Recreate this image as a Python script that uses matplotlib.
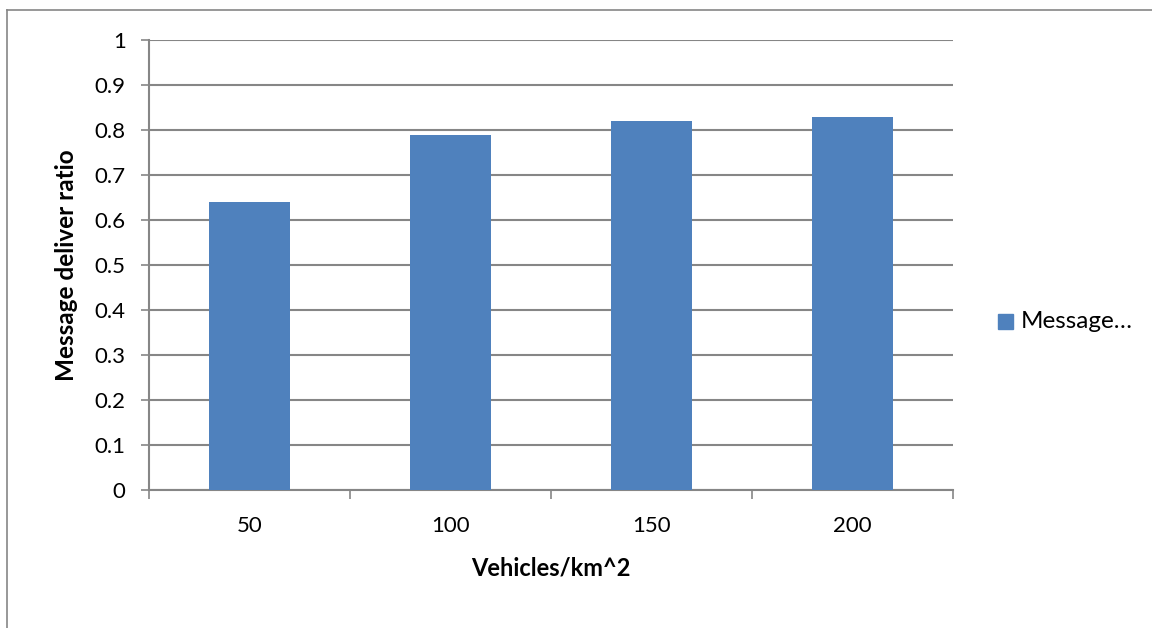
import matplotlib.pyplot as plt
from matplotlib.patches import Rectangle
from matplotlib.lines import Line2D

categories = ['50', '100', '150', '200']
ratio = [0.64, 0.79, 0.82, 0.83]
series_name = 'Message…'

bar_color = '#4f81bd'
grid_color = '#868686'

plt.rcParams['font.family'] = ['Lato', 'DejaVu Sans']

W, H = 1152, 628
fig = plt.figure(figsize=(W / 100, H / 100), dpi=100)
ax = fig.add_axes([149 / W, 1 - 490 / H, (953 - 149) / W, (490 - 40) / H])

x = range(len(categories))
ax.bar(x, ratio, width=0.4, color=bar_color, zorder=3)

ax.set_xlim(-0.5, len(categories) - 0.5)
ax.set_ylim(0, 1)
ax.set_yticks([i / 10 for i in range(11)])
ax.set_yticklabels(['0'] + [f'{i / 10:.1f}' for i in range(1, 10)] + ['1'])
ax.set_xticks(list(x))
ax.set_xticklabels(categories)
ax.tick_params(axis='x', length=0, pad=19, labelsize=16)
ax.tick_params(axis='y', length=5.8, width=1.2, color=grid_color, pad=11, labelsize=16)

# category boundary ticks below the x axis
ax.set_xticks([i - 0.5 for i in range(len(categories) + 1)], minor=True)
ax.tick_params(axis='x', which='minor', length=6.5, width=1.2, color=grid_color)

ax.grid(axis='y', color=grid_color, linewidth=1.5, zorder=0)
for side in ['top', 'right']:
    ax.spines[side].set_visible(False)
for side in ['left', 'bottom']:
    ax.spines[side].set_color(grid_color)
    ax.spines[side].set_linewidth(1.5)

fig.text(551 / W, 1 - 568 / H, 'Vehicles/km^2', fontsize=17, fontweight='bold',
         ha='center', va='center')
fig.text(66 / W, 1 - 265 / H, 'Message deliver ratio', fontsize=17.5, fontweight='bold',
         rotation=90, ha='center', va='center')

# legend entry on the right
fig.patches.append(Rectangle((998 / W, 1 - 329 / H), 15 / W, 15 / H,
                             transform=fig.transFigure, color=bar_color))
fig.text(1021 / W, 1 - 322 / H, series_name, fontsize=17.5, va='center', ha='left')

# chart area border
fig.add_artist(Line2D([7 / W, 7 / W], [0, 1 - 10 / H], color=grid_color, lw=1.2,
                      transform=fig.transFigure))
fig.add_artist(Line2D([7 / W, 1], [1 - 10 / H, 1 - 10 / H], color=grid_color, lw=1.2,
                      transform=fig.transFigure))

fig.savefig('out.png', dpi=100)
